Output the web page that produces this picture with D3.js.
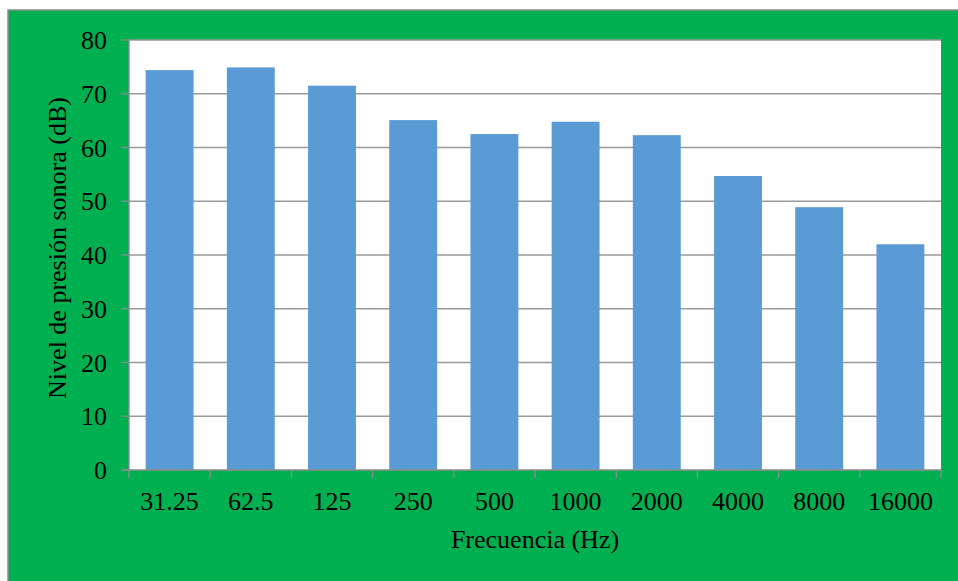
<!DOCTYPE html>
<html>
<head>
<meta charset="utf-8">
<script src="https://cdn.jsdelivr.net/npm/d3@7"></script>
<style>
  body { margin: 0; background: #fff; }
  text { font-family: "Liberation Serif", "Times New Roman", serif; fill: #000; }
</style>
</head>
<body>
<svg></svg>
<script>
const width = 958;
const height = 581;

// frecuencias de banda (Hz) y nivel medido (dB)
const categories = ['31.25', '62.5', '125', '250', '500', '1000', '2000', '4000', '8000', '16000'];
const levels = [74.4, 74.9, 71.5, 65.1, 62.5, 64.8, 62.3, 54.7, 48.9, 42.0];
const yTicks = [0, 10, 20, 30, 40, 50, 60, 70, 80];

const plot = { left: 129, right: 941, top: 40, bottom: 470 };

const svg = d3.select('svg')
  .attr('width', width)
  .attr('height', height)
  .style('display', 'block');

// green frame (runs off the right and bottom edges)
svg.append('rect')
  .attr('x', 8).attr('y', 10)
  .attr('width', width + 10).attr('height', height + 10)
  .style('fill', '#00B050')
  .style('stroke', '#8c8c8c')
  .style('stroke-width', 1.5);

svg.append('rect')
  .attr('x', plot.left).attr('y', plot.top)
  .attr('width', plot.right - plot.left).attr('height', plot.bottom - plot.top)
  .style('fill', '#fff');

const x = d3.scaleBand()
  .domain(categories)
  .range([plot.left, plot.right])
  .paddingInner(0.41)
  .paddingOuter(0.205);

const y = d3.scaleLinear()
  .domain([0, 80])
  .range([plot.bottom, plot.top]);

// gridlines
svg.selectAll('.grid')
  .data(yTicks.filter(d => d > 0))
  .enter()
  .append('line')
    .classed('grid', true)
    .attr('x1', plot.left).attr('x2', plot.right)
    .attr('y1', d => y(d)).attr('y2', d => y(d))
    .style('stroke', '#999')
    .style('stroke-width', 1.3);

// bars
svg.selectAll('.bar')
  .data(categories)
  .enter()
  .append('rect')
    .classed('bar', true)
    .attr('x', d => x(d))
    .attr('width', x.bandwidth())
    .attr('y', (d, i) => y(levels[i]))
    .attr('height', (d, i) => y(0) - y(levels[i]))
    .style('fill', '#5B9BD5');

// y axis
const yAxis = svg.append('g');
yAxis.append('line')
  .attr('x1', plot.left).attr('x2', plot.left)
  .attr('y1', plot.top).attr('y2', plot.bottom)
  .style('stroke', '#8c8c8c').style('stroke-width', 1.3);
yAxis.selectAll('.ytick')
  .data(yTicks)
  .enter()
  .append('line')
    .attr('x1', plot.left - 8).attr('x2', plot.left)
    .attr('y1', d => y(d)).attr('y2', d => y(d))
    .style('stroke', '#8c8c8c').style('stroke-width', 1.3);
yAxis.selectAll('.ylabel')
  .data(yTicks)
  .enter()
  .append('text')
    .attr('x', 107)
    .attr('y', d => y(d) + 9)
    .attr('text-anchor', 'end')
    .style('font-size', '26px')
    .text(d => d);

// x axis
const step = x.step();
const gap = (step - x.bandwidth()) / 2;
const bounds = categories.map(d => x(d) - gap).concat([x(categories[categories.length - 1]) + x.bandwidth() + gap]);
const xAxis = svg.append('g');
xAxis.append('line')
  .attr('x1', plot.left - 8).attr('x2', plot.right)
  .attr('y1', plot.bottom).attr('y2', plot.bottom)
  .style('stroke', '#8c8c8c').style('stroke-width', 1.3);
xAxis.selectAll('.xtick')
  .data(bounds)
  .enter()
  .append('line')
    .attr('x1', d => d).attr('x2', d => d)
    .attr('y1', plot.bottom).attr('y2', plot.bottom + 8)
    .style('stroke', '#8c8c8c').style('stroke-width', 1.3);
xAxis.selectAll('.xlabel')
  .data(categories)
  .enter()
  .append('text')
    .attr('x', d => x(d) + x.bandwidth() / 2)
    .attr('y', 510)
    .attr('text-anchor', 'middle')
    .style('font-size', '26px')
    .text(d => d);

// axis titles
svg.append('text')
  .attr('x', (plot.left + plot.right) / 2)
  .attr('y', 548)
  .attr('text-anchor', 'middle')
  .style('font-size', '26px')
  .text('Frecuencia (Hz)');

svg.append('text')
  .attr('transform', 'translate(66,248) rotate(-90)')
  .attr('text-anchor', 'middle')
  .style('font-size', '26px')
  .text('Nivel de presión sonora (dB)');
</script>
</body>
</html>
